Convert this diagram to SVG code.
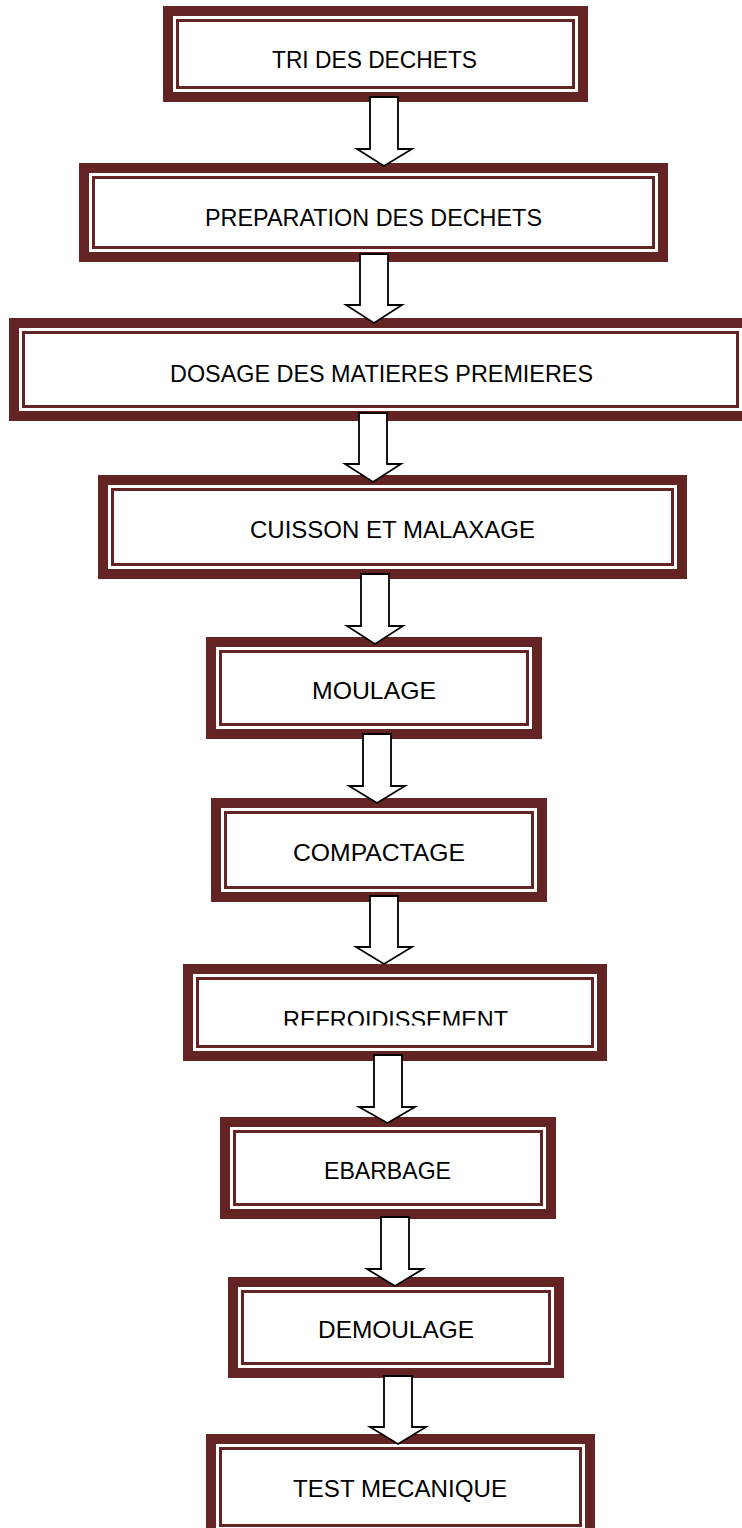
<svg xmlns="http://www.w3.org/2000/svg" width="742" height="1528" viewBox="0 0 742 1528">
<style>
.outer{fill:#fff;stroke:#632423;stroke-width:10}
.inner{fill:none;stroke:#632423;stroke-width:3}
.lbl{font-family:"Liberation Sans",Arial,sans-serif;font-size:24px;fill:#000;text-anchor:middle}
.arr{fill:#fff;stroke:#000;stroke-width:1.8;stroke-linejoin:miter}
</style>
<defs>
<clipPath id="clip7"><rect x="0" y="960" width="742" height="65.5"/></clipPath>
</defs>
<rect width="742" height="1528" fill="#fff"/>
<g id="node1">
<rect class="outer" x="168" y="11" width="415" height="86"/>
<rect class="inner" x="177.5" y="20.5" width="396" height="67"/>
<text class="lbl" x="374.5" y="68" textLength="205" lengthAdjust="spacingAndGlyphs">TRI DES DECHETS</text>
</g>
<g id="node2">
<rect class="outer" x="84" y="168" width="579" height="89"/>
<rect class="inner" x="93.5" y="177.5" width="560" height="70"/>
<text class="lbl" x="373.5" y="226" textLength="337" lengthAdjust="spacingAndGlyphs">PREPARATION DES DECHETS</text>
</g>
<g id="node3">
<rect class="outer" x="14" y="323" width="733" height="93"/>
<rect class="inner" x="23.5" y="332.5" width="714" height="74"/>
<text class="lbl" x="381.5" y="382" textLength="423" lengthAdjust="spacingAndGlyphs">DOSAGE DES MATIERES PREMIERES</text>
</g>
<g id="node4">
<rect class="outer" x="103" y="480" width="579" height="94"/>
<rect class="inner" x="112.5" y="489.5" width="560" height="75"/>
<text class="lbl" x="392.5" y="538" textLength="285" lengthAdjust="spacingAndGlyphs">CUISSON ET MALAXAGE</text>
</g>
<g id="node5">
<rect class="outer" x="211" y="642" width="326" height="92"/>
<rect class="inner" x="220.5" y="651.5" width="307" height="73"/>
<text class="lbl" x="374" y="699" textLength="124" lengthAdjust="spacingAndGlyphs">MOULAGE</text>
</g>
<g id="node6">
<rect class="outer" x="216" y="803" width="326" height="94"/>
<rect class="inner" x="225.5" y="812.5" width="307" height="75"/>
<text class="lbl" x="379" y="861" textLength="172" lengthAdjust="spacingAndGlyphs">COMPACTAGE</text>
</g>
<g id="node7">
<rect class="outer" x="188" y="969" width="414" height="87"/>
<rect class="inner" x="197.5" y="978.5" width="395" height="68"/>
<text class="lbl" x="395.5" y="1027.5" textLength="225" lengthAdjust="spacingAndGlyphs" clip-path="url(#clip7)">REFROIDISSEMENT</text>
</g>
<g id="node8">
<rect class="outer" x="225" y="1122" width="326" height="92"/>
<rect class="inner" x="234.5" y="1131.5" width="307" height="73"/>
<text class="lbl" x="387.5" y="1179" textLength="127" lengthAdjust="spacingAndGlyphs">EBARBAGE</text>
</g>
<g id="node9">
<rect class="outer" x="233" y="1282" width="326" height="91"/>
<rect class="inner" x="242.5" y="1291.5" width="307" height="72"/>
<text class="lbl" x="396" y="1338" textLength="156" lengthAdjust="spacingAndGlyphs">DEMOULAGE</text>
</g>
<g id="node10">
<rect class="outer" x="211" y="1439" width="379" height="96"/>
<rect class="inner" x="220.5" y="1448.5" width="360" height="77"/>
<text class="lbl" x="400" y="1497" textLength="214" lengthAdjust="spacingAndGlyphs">TEST MECANIQUE</text>
</g>
<g id="connectors">
<path class="arr" d="M370 97 H398 V149 H412 L384 166 L357 149 H370 Z"/>
<path class="arr" d="M360 254 H388 V305 H402 L374 323 L346 305 H360 Z"/>
<path class="arr" d="M359 413 H387 V464 H401 L373 482 L345 464 H359 Z"/>
<path class="arr" d="M361 574 H389 V626 H403 L375 644 L347 626 H361 Z"/>
<path class="arr" d="M363 734 H391 V786 H405 L377 803 L349 786 H363 Z"/>
<path class="arr" d="M370 896 H398 V947 H412 L384 964 L356 947 H370 Z"/>
<path class="arr" d="M374 1055 H402 V1107 H415 L387.5 1123 L359 1107 H374 Z"/>
<path class="arr" d="M381 1217 H409 V1269 H423 L395 1286 L367 1269 H381 Z"/>
<path class="arr" d="M384 1376 H412 V1427 H426 L398 1444 L370 1427 H384 Z"/>
</g>
</svg>
